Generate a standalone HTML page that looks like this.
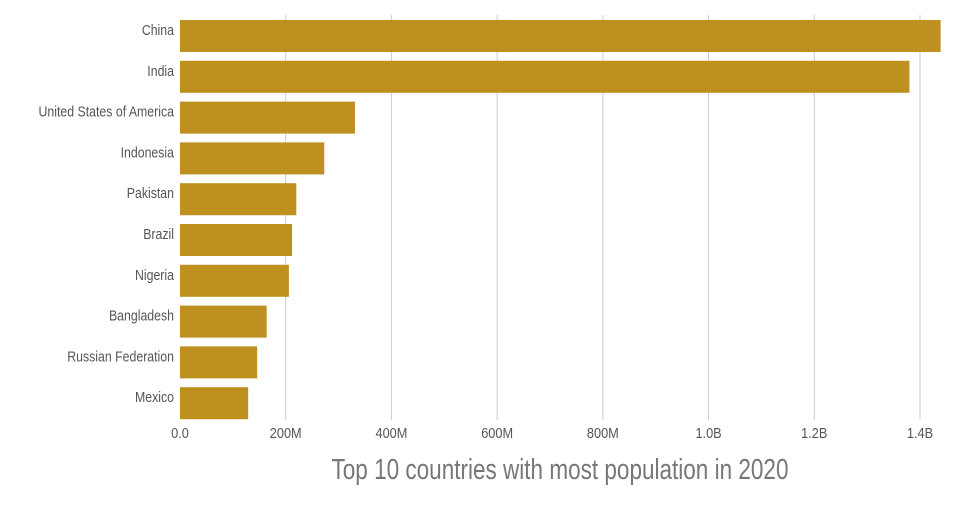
<!DOCTYPE html>
<html><head><meta charset="utf-8"><style>
body{margin:0;background:#fff}
svg text{font-family:"Liberation Sans",sans-serif;fill:#555}
</style></head><body>
<svg id="chart" width="960" height="500" viewBox="0 0 960 500"></svg>
<script>
const categories=["China","India","United States of America","Indonesia","Pakistan","Brazil","Nigeria","Bangladesh","Russian Federation","Mexico"];
const values=[1439,1380,331,273,220,212,206,164,146,129];
const tickValues=[0,200,400,600,800,1000,1200,1400];
const tickLabels=["0.0","200M","400M","600M","800M","1.0B","1.2B","1.4B"];
const svg=document.getElementById('chart');
const NS="http://www.w3.org/2000/svg";
const x0=180,x1=920,maxV=1400;
const xs=v=>x0+(x1-x0)*v/maxV;
const step=40.8,top0=20,bh=32;
const ys=i=>top0+i*step;
function mk(t,a){const e=document.createElementNS(NS,t);for(const k in a)e.setAttribute(k,a[k]);svg.appendChild(e);return e;}
tickValues.forEach((v,i)=>{
  if(i>0){const g=mk('line',{x1:xs(v),x2:xs(v),y1:15,y2:420,stroke:'#ccc','stroke-width':1});
  
  }
  const t=mk('text',{x:xs(v),y:438,'text-anchor':'middle','font-size':14.5,transform:`translate(${xs(v)},0) scale(0.88,1) translate(${-xs(v)},0)`});
  t.textContent=tickLabels[i];
  
  
});
categories.forEach((c,i)=>{
  const r=mk('rect',{x:x0,y:ys(i),width:xs(values[i])-x0,height:bh,fill:'#BE9020'});
  
  
  const t=mk('text',{x:174,y:ys(i)+15,'text-anchor':'end','font-size':14.5,transform:`translate(174,0) scale(0.85,1) translate(-174,0)`});
  t.textContent=c;
  
  
});
const ti=mk('text',{x:560,y:479,'text-anchor':'middle','font-size':29,fill:'#777',transform:'translate(560,0) scale(0.777,1) translate(-560,0)'});
ti.style.fill='#777';
ti.textContent='Top 10 countries with most population in 2020';


</script>
</body></html>
